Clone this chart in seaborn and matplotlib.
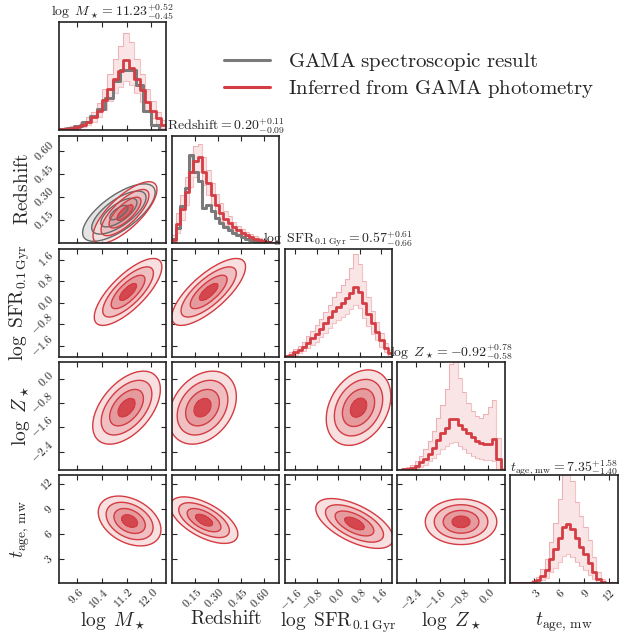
import numpy as np
import seaborn as sns
import matplotlib
matplotlib.use("Agg")
import matplotlib.pyplot as plt
from matplotlib.lines import Line2D

sns.set_style("ticks")
plt.rcParams["mathtext.fontset"] = "cm"
plt.rcParams["font.family"] = ["DejaVu Serif"]

# ---------------- data ----------------
labels = [r"$\log\ M_\star$", r"$\mathrm{Redshift}$", r"$\log\ \mathrm{SFR}_{0.1\,\mathrm{Gyr}}$",
          r"$\log\ Z_\star$", r"$t_\mathrm{age,\,mw}$"]
titles = [r"$\log\ M_\star = 11.23^{+0.52}_{-0.45}$",
          r"$\mathrm{Redshift} = 0.20^{+0.11}_{-0.09}$",
          r"$\log\ \mathrm{SFR}_{0.1\,\mathrm{Gyr}} = 0.57^{+0.61}_{-0.66}$",
          r"$\log\ Z_\star = -0.92^{+0.78}_{-0.58}$",
          r"$t_\mathrm{age,\,mw} = 7.35^{+1.58}_{-1.40}$"]
ranges = [(9.0, 12.5), (0.0, 0.7), (-2.0, 2.0), (-3.0, 0.55), (0.1, 13.1)]
ticks = [[9.6, 10.4, 11.2, 12.0], [0.15, 0.30, 0.45, 0.60], [-1.6, -0.8, 0.0, 0.8, 1.6],
         [-2.4, -1.6, -0.8, 0.0], [3, 6, 9, 12]]
tick_labels = [["9.6", "10.4", "11.2", "12.0"], ["0.15", "0.30", "0.45", "0.60"],
               ["-1.6", "-0.8", "0.0", "0.8", "1.6"], ["-2.4", "-1.6", "-0.8", "0.0"],
               ["3", "6", "9", "12"]]

# red 1D histograms (median, low and high envelope of posterior draws)
logm_med = [0.01, 0.015, 0.02, 0.03, 0.05, 0.08, 0.12, 0.18, 0.28, 0.38, 0.47, 0.55, 0.65, 0.58, 0.47, 0.37, 0.26, 0.18, 0.11, 0.05]
logm_hi = [0.02, 0.03, 0.04, 0.05, 0.08, 0.12, 0.17, 0.25, 0.38, 0.52, 0.66, 0.78, 0.90, 0.82, 0.66, 0.52, 0.38, 0.27, 0.17, 0.09]
logm_lo = [0.0, 0.005, 0.01, 0.015, 0.03, 0.05, 0.08, 0.12, 0.19, 0.27, 0.34, 0.40, 0.46, 0.42, 0.34, 0.26, 0.17, 0.11, 0.06, 0.02]
z_med = [0.03, 0.18, 0.32, 0.48, 0.66, 0.76, 0.80, 0.66, 0.56, 0.45, 0.36, 0.28, 0.23, 0.19, 0.15, 0.12, 0.10, 0.08, 0.06, 0.045, 0.03, 0.02, 0.012, 0.006, 0.003]
z_hi = [0.08, 0.28, 0.45, 0.62, 0.80, 0.90, 0.92, 0.80, 0.68, 0.56, 0.46, 0.37, 0.30, 0.25, 0.20, 0.16, 0.13, 0.11, 0.09, 0.07, 0.05, 0.035, 0.025, 0.015, 0.01]
z_lo = [0.01, 0.10, 0.22, 0.36, 0.52, 0.62, 0.66, 0.54, 0.45, 0.36, 0.28, 0.21, 0.17, 0.14, 0.11, 0.08, 0.065, 0.05, 0.035, 0.025, 0.015, 0.01, 0.005, 0.002, 0.0]
sfr_med = [0.01, 0.02, 0.04, 0.06, 0.09, 0.13, 0.17, 0.21, 0.26, 0.31, 0.37, 0.42, 0.46, 0.50, 0.54, 0.59, 0.65, 0.60, 0.50, 0.40, 0.31, 0.23, 0.15, 0.08, 0.03]
sfr_hi = [0.02, 0.04, 0.07, 0.10, 0.14, 0.19, 0.24, 0.29, 0.35, 0.41, 0.48, 0.55, 0.60, 0.66, 0.72, 0.82, 0.95, 0.86, 0.70, 0.55, 0.42, 0.32, 0.22, 0.13, 0.06]
sfr_lo = [0.0, 0.01, 0.02, 0.03, 0.05, 0.08, 0.11, 0.14, 0.18, 0.22, 0.27, 0.31, 0.34, 0.37, 0.40, 0.44, 0.48, 0.45, 0.36, 0.28, 0.21, 0.15, 0.09, 0.04, 0.01]
met_med = [0.0, 0.005, 0.01, 0.02, 0.04, 0.07, 0.10, 0.15, 0.20, 0.28, 0.34, 0.39, 0.47, 0.47, 0.42, 0.38, 0.34, 0.31, 0.27, 0.25, 0.24, 0.24, 0.29, 0.10, 0.0]
met_hi = [0.0, 0.01, 0.03, 0.05, 0.08, 0.13, 0.19, 0.27, 0.36, 0.48, 0.60, 0.75, 0.98, 1.05, 0.85, 0.72, 0.62, 0.55, 0.50, 0.48, 0.52, 0.58, 0.65, 0.30, 0.02]
met_lo = [0.0, 0.0, 0.0, 0.005, 0.015, 0.03, 0.05, 0.08, 0.11, 0.15, 0.19, 0.22, 0.25, 0.26, 0.22, 0.19, 0.16, 0.13, 0.11, 0.10, 0.09, 0.09, 0.08, 0.0, 0.0]
age_med = [0.0, 0.0, 0.0, 0.002, 0.005, 0.01, 0.03, 0.07, 0.12, 0.22, 0.32, 0.42, 0.52, 0.55, 0.50, 0.42, 0.34, 0.27, 0.19, 0.10, 0.04, 0.015, 0.005, 0.002, 0.0]
age_hi = [0.0, 0.0, 0.0, 0.005, 0.01, 0.03, 0.06, 0.13, 0.22, 0.38, 0.56, 0.78, 1.05, 1.05, 0.95, 0.75, 0.62, 0.52, 0.40, 0.24, 0.10, 0.04, 0.015, 0.005, 0.0]
age_lo = [0.0, 0.0, 0.0, 0.0, 0.0, 0.002, 0.01, 0.03, 0.05, 0.10, 0.14, 0.20, 0.25, 0.27, 0.24, 0.20, 0.16, 0.12, 0.08, 0.04, 0.015, 0.005, 0.0, 0.0, 0.0]

# gray (spectroscopic) 1D histograms
gama_logm = [0.01, 0.02, 0.04, 0.08, 0.13, 0.20, 0.30, 0.46, 0.56, 0.56, 0.42, 0.18, 0.05, 0.0]
gama_z = [0.04, 0.14, 0.35, 0.51, 0.82, 0.66, 0.58, 0.33, 0.36, 0.30, 0.24, 0.19, 0.15, 0.12, 0.10, 0.08, 0.06, 0.045, 0.035, 0.025, 0.018, 0.012, 0.007, 0.004, 0.002]

red_hists = [(logm_med, logm_lo, logm_hi), (z_med, z_lo, z_hi), (sfr_med, sfr_lo, sfr_hi),
             (met_med, met_lo, met_hi), (age_med, age_lo, age_hi)]
gray_hists = {0: gama_logm, 1: gama_z}

# 2D contour shapes: (row, col): (x centre, y centre, x width, y width, correlation)
red_shapes = {
    (1, 0): (11.15, 0.20, 0.52, 0.10, 0.75),
    (2, 0): (11.25, 0.40, 0.55, 0.62, 0.75),
    (2, 1): (0.24, 0.40, 0.12, 0.62, 0.75),
    (3, 0): (11.20, -0.95, 0.55, 0.60, 0.50),
    (3, 1): (0.20, -0.95, 0.11, 0.60, 0.30),
    (3, 2): (0.75, -0.95, 0.60, 0.62, 0.30),
    (4, 0): (11.30, 7.6, 0.51, 1.50, -0.35),
    (4, 1): (0.21, 7.7, 0.11, 1.40, -0.60),
    (4, 2): (0.60, 7.3, 0.72, 1.50, -0.60),
    (4, 3): (-0.90, 7.5, 0.59, 1.37, 0.0),
}
gray_shapes = {(1, 0): (10.95, 0.20, 0.59, 0.093, 0.70)}
level_mass = [0.865, 0.675, 0.393, 0.118]

# ---------------- style ----------------
RED = "#d43d44"
GRAY = "#7a7a7a"
red_fills = ["#f8dfe0", "#efbfc2", "#e59a9e", "#d4474f"]
gray_fills = ["#e4e4e4", "#d2d2d2", "#bdbdbd", "#a0a0a0"]

fig, axes = plt.subplots(5, 5, figsize=(6.19, 6.36), dpi=100)
fig.subplots_adjust(left=0.0953, right=0.998, bottom=0.083, top=0.965, wspace=0.05, hspace=0.05)
n = 5


def density(ax, xr, yr, shape, fills, line_color, alpha=1.0, lw=1.0):
    mx, my, sx, sy, rho = shape
    x = np.linspace(xr[0], xr[1], 220)
    y = np.linspace(yr[0], yr[1], 220)
    X, Y = np.meshgrid(x, y)
    dx = (X - mx) / sx
    dy = (Y - my) / sy
    q = (dx ** 2 - 2 * rho * dx * dy + dy ** 2) / (1 - rho ** 2)
    Z = np.exp(-0.5 * q)
    lev = [1 - m for m in level_mass]
    ax.contourf(X, Y, Z, levels=lev + [1.01], colors=fills, alpha=alpha)
    ax.contour(X, Y, Z, levels=lev, colors=line_color, linewidths=lw)


def step_hist(ax, centers, vals, edges, **kw):
    sns.histplot(x=list(centers), weights=list(vals), bins=list(edges), element="step",
                 fill=False, ax=ax, **kw)


for i in range(n):
    for j in range(n):
        ax = axes[i, j]
        if j > i:
            ax.set_axis_off()
            continue
        xr = ranges[j]
        if i == j:
            nb = len(red_hists[i][0])
            edges = np.linspace(xr[0], xr[1], nb + 1)
            centers = 0.5 * (edges[1:] + edges[:-1])
            med, lo, hi = red_hists[i]
            ax.fill_between(edges, list(lo) + [lo[-1]], list(hi) + [hi[-1]], step="post",
                            color=RED, alpha=0.13, lw=0)
            for arr in (lo, hi):
                step_hist(ax, centers, arr, edges, color=RED, alpha=0.3, linewidth=0.8)
            if i in gray_hists:
                g = gray_hists[i]
                gedges = np.linspace(xr[0], xr[1], len(g) + 1)
                gcent = 0.5 * (gedges[1:] + gedges[:-1])
                step_hist(ax, gcent, g, gedges, color=GRAY, linewidth=2.2)
            step_hist(ax, centers, med, edges, color=RED, linewidth=2.0)
            ax.set_ylim(0, 1.0)
            ax.set_yticks([])
            ax.set_title(titles[i], fontsize=10, pad=3)
        else:
            yr = ranges[i]
            if (i, j) in gray_shapes:
                density(ax, xr, yr, gray_shapes[(i, j)], gray_fills, "#6a6a6a")
                density(ax, xr, yr, red_shapes[(i, j)], red_fills, RED, alpha=0.75)
            else:
                density(ax, xr, yr, red_shapes[(i, j)], red_fills, RED)
            ax.set_ylim(*yr)
            ax.set_yticks(ticks[i])
            if j == 0:
                ax.set_yticklabels(["$" + t + "$" for t in tick_labels[i]], rotation=45,
                                   fontsize=8.5, va="center")
                ax.set_ylabel(labels[i], fontsize=14)
                ax.yaxis.set_label_coords(-0.25, 0.5)
            else:
                ax.set_yticklabels([])
                ax.set_ylabel("")
        ax.set_xlim(*xr)
        ax.set_xticks(ticks[j])
        if i == n - 1:
            ax.set_xticklabels(["$" + t + "$" for t in tick_labels[j]], rotation=45,
                               fontsize=8.5, ha="right", rotation_mode="anchor")
            ax.set_xlabel(labels[j], fontsize=14)
            ax.xaxis.set_label_coords(0.5, -0.25)
        else:
            ax.set_xticklabels([])
            ax.set_xlabel("")
        if i == j:
            ax.set_ylabel("")
        ax.tick_params(direction="in", top=True, right=(i != j), length=3.5, width=0.8, pad=2)
        for s in ax.spines.values():
            s.set_linewidth(1.2)
            s.set_color("#222222")

handles = [Line2D([], [], color=GRAY, lw=2.2), Line2D([], [], color=RED, lw=2.2)]
fig.legend(handles, [r"$\mathrm{GAMA\ spectroscopic\ result}$",
                     r"$\mathrm{Inferred\ from\ GAMA\ photometry}$"],
           loc="upper left", bbox_to_anchor=(224 / 619, 1 - 51 / 636), frameon=False,
           fontsize=15, handlelength=2.2, handletextpad=0.85, labelspacing=0.25, borderpad=0,
           borderaxespad=0)

fig.savefig("out.png", dpi=100)
